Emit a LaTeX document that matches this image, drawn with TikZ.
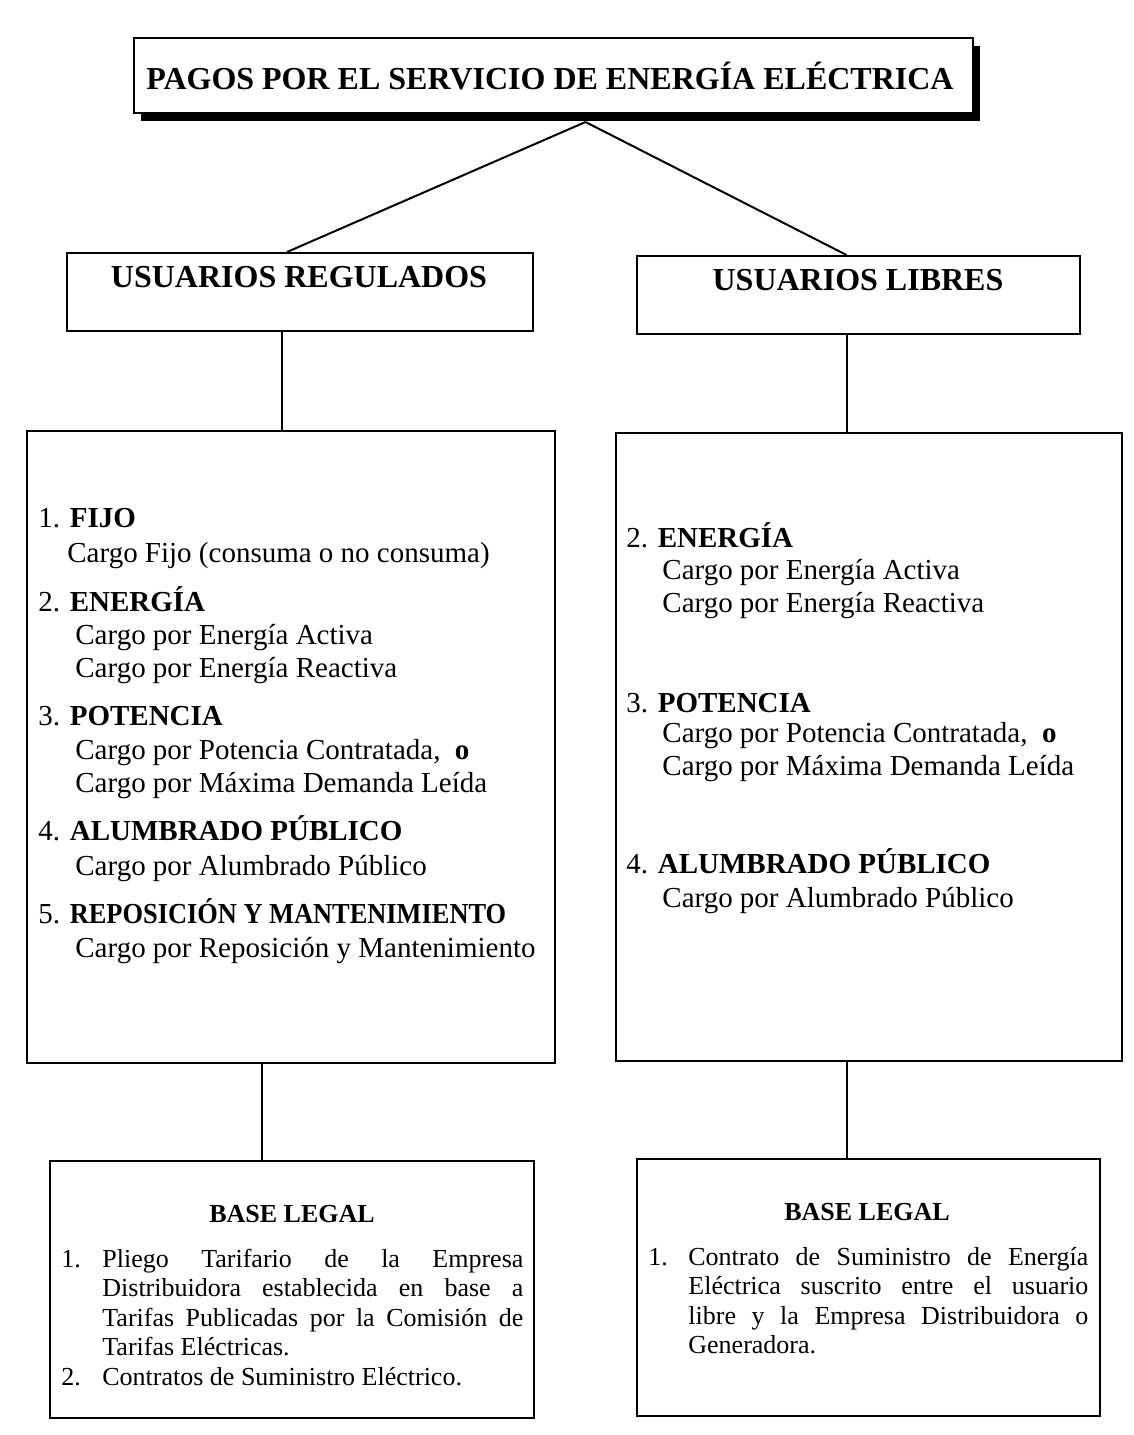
\documentclass[tikz,border=0pt]{standalone}
\usepackage{fontspec}
\setmainfont{Liberation Serif}
\usetikzlibrary{calc,shadows}
\hyphenpenalty=10000
\tolerance=10000
\tikzset{
  panel/.style={draw=black,line width=1pt,fill=white,inner sep=0pt,anchor=north west},
  heading/.style={font=\bfseries\fontsize{16}{19}\selectfont,anchor=base,inner sep=0pt},
  legalhead/.style={font=\bfseries\fontsize{13}{15}\selectfont,anchor=base,inner sep=0pt},
  entry/.style={font=\fontsize{14.5}{16.5}\selectfont,anchor=base west,inner sep=0pt,align=left},
  legal/.style={font=\fontsize{13}{14.75}\selectfont,anchor=base west,inner sep=0pt,align=justify},
  link/.style={draw=black,line width=1pt}
}
\newcommand{\hangnum}[2]{\hangindent=#2\hangafter=1 \makebox[#2][l]{#1}}

\begin{document}
\begin{tikzpicture}[x=0.5pt,y=-0.5pt]
\fill[white] (0,0) rectangle (1134,1435);
\path[use as bounding box] (0,0) rectangle (1134,1435);
% title
\node[panel,minimum width=419.5pt,minimum height=37.5pt,drop shadow={shadow xshift=3.5pt,shadow yshift=-4pt,opacity=1,fill=black}] (title) at (133,37) {};
\node[heading] (titletxt) at (550,89) {PAGOS POR EL SERVICIO DE ENERGÍA ELÉCTRICA};
% two kinds of users
\node[panel,minimum width=233pt,minimum height=39pt] (reg) at (66,252) {};
\node[heading] (regtxt) at (299,287) {USUARIOS REGULADOS};
\node[panel,minimum width=221.5pt,minimum height=39pt] (lib) at (636,255) {};
\node[heading] (libtxt) at (858,290) {USUARIOS LIBRES};
\draw[link] ($(title.south)+(32,8)$) -- ($(reg.north)+(-13,0)$);
\draw[link] ($(title.south)+(32,8)$) -- ($(lib.north)+(-12,0)$);
% charges (multi-line nodes sit on their last baseline)
\node[panel,minimum width=264pt,minimum height=316pt] (regbox) at (26,430) {};
\node[panel,minimum width=253pt,minimum height=314pt] (libbox) at (615,432) {};
\draw[link] ($(reg.south)+(-18,0)$) -- ($(regbox.north)+(-9,0)$);
\draw[link] ($(lib.south)+(-11.5,0)$) -- ($(libbox.north)+(-22,0)$);
\node[entry] (r1) at (38,527) {1. \textbf{FIJO}};
\node[entry] (r1a) at (67,562) {Cargo Fijo (consuma o no consuma)};
\node[entry] (r2) at (38,611) {2. \textbf{ENERGÍA}};
\node[entry] (r2a) at (75,677) {Cargo por Energía Activa\\Cargo por Energía Reactiva};
\node[entry] (r3) at (38,725) {3. \textbf{POTENCIA}};
\node[entry] (r3a) at (75,792) {Cargo por Potencia Contratada,\ \ \textbf{o}\\Cargo por Máxima Demanda Leída};
\node[entry] (r4) at (38,840) {4. \textbf{ALUMBRADO PÚBLICO}};
\node[entry] (r4a) at (75,875) {Cargo por Alumbrado Público};
\node[entry] (r5) at (38,923) {5. \scalebox{0.91}[1]{\textbf{REPOSICIÓN Y MANTENIMIENTO}}};
\node[entry] (r5a) at (75,957) {Cargo por Reposición y Mantenimiento};
\node[entry] (l2) at (626,547) {2. \textbf{ENERGÍA}};
\node[entry] (l2a) at (662,612) {Cargo por Energía Activa\\Cargo por Energía Reactiva};
\node[entry] (l3) at (626,712) {3. \textbf{POTENCIA}};
\node[entry] (l3a) at (662,775) {Cargo por Potencia Contratada,\ \ \textbf{o}\\Cargo por Máxima Demanda Leída};
\node[entry] (l4) at (626,873) {4. \textbf{ALUMBRADO PÚBLICO}};
\node[entry] (l4a) at (662,907) {Cargo por Alumbrado Público};
% legal basis
\node[panel,minimum width=242pt,minimum height=128.5pt] (regleg) at (49,1160) {};
\node[panel,minimum width=231.5pt,minimum height=128.5pt] (libleg) at (636,1158) {};
\draw[link] ($(regbox.south)+(-29,0)$) -- ($(regleg.north)+(-30,0)$);
\draw[link] ($(libbox.south)+(-22,0)$) -- ($(libleg.north)+(-21.5,0)$);
\node[legalhead] (reglegtxt) at (292,1222) {BASE LEGAL};
\node[legal,text width=231pt] (reglist) at (61,1267) {\hangnum{1.}{20.5pt}Pliego Tarifario de la Empresa\linebreak Distribuidora establecida en base a\linebreak Tarifas Publicadas por la Comisión de\linebreak Tarifas Eléctricas.\par
\hangnum{2.}{20.5pt}Contratos de Suministro Eléctrico.\par};
\node[legalhead] (liblegtxt) at (867,1220) {BASE LEGAL};
\node[legal,text width=220pt] (liblist) at (648,1265) {\hangnum{1.}{20pt}Contrato de Suministro de Energía\linebreak Eléctrica suscrito entre el usuario\linebreak libre y la Empresa Distribuidora o\linebreak Generadora.\par};
\end{tikzpicture}
\end{document}
